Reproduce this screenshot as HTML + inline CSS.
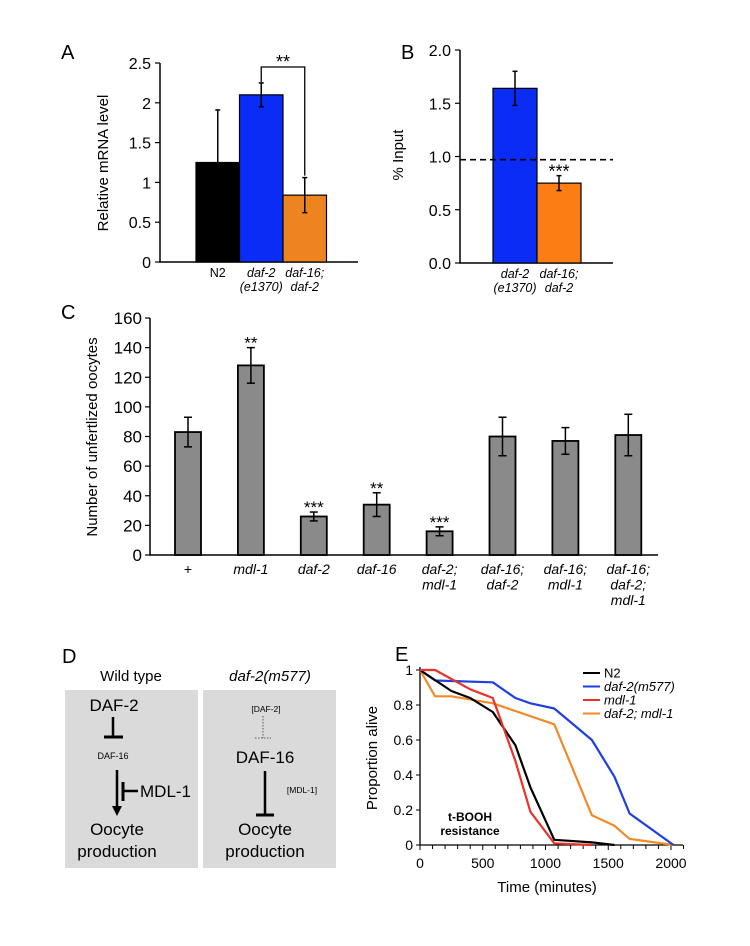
<!DOCTYPE html>
<html><head><meta charset="utf-8"><style>
html,body{margin:0;padding:0;background:#fff;}
svg{display:block;font-family:"Liberation Sans",Arial,sans-serif;}
</style></head><body>
<svg id="fig" width="750" height="946" viewBox="0 0 750 946" xmlns="http://www.w3.org/2000/svg">
<g id="pA"></g>
<g id="pB"></g>
<g id="pC"></g>
<g id="pD">
  <text x="62" y="663" font-size="20">D</text>
  <text x="131" y="681" font-size="15" text-anchor="middle">Wild type</text>
  <text x="270" y="681" font-size="15" text-anchor="middle" font-style="italic">daf-2(m577)</text>
  <rect x="65" y="690" width="133" height="178" fill="#dadada"/>
  <rect x="203" y="690" width="133" height="178" fill="#dadada"/>
  <text x="114" y="711" font-size="17" text-anchor="middle">DAF-2</text>
  <line x1="113" y1="717" x2="113" y2="737" stroke="#000" stroke-width="2.5"/>
  <line x1="104" y1="737" x2="123" y2="737" stroke="#000" stroke-width="3"/>
  <text x="113" y="759" font-size="9" text-anchor="middle">DAF-16</text>
  <line x1="117" y1="770" x2="117" y2="808" stroke="#000" stroke-width="2.5"/>
  <polygon points="112,806 122,806 117,816" fill="#000"/>
  <line x1="123" y1="782" x2="123" y2="801" stroke="#000" stroke-width="3"/>
  <line x1="123" y1="791" x2="138" y2="791" stroke="#000" stroke-width="2.5"/>
  <text x="140" y="797" font-size="17">MDL-1</text>
  <text x="117" y="835" font-size="17" text-anchor="middle">Oocyte</text>
  <text x="117" y="857" font-size="17" text-anchor="middle">production</text>
  <text x="266" y="712" font-size="8.5" text-anchor="middle">[DAF-2]</text>
  <line x1="263" y1="716" x2="263" y2="738" stroke="#333" stroke-width="0.8" stroke-dasharray="1.5,1.5"/>
  <line x1="255" y1="738" x2="271" y2="738" stroke="#333" stroke-width="0.8" stroke-dasharray="1.5,1.5"/>
  <text x="265" y="763" font-size="17" text-anchor="middle">DAF-16</text>
  <line x1="265" y1="771" x2="265" y2="815" stroke="#000" stroke-width="2.5"/>
  <line x1="256" y1="815" x2="274" y2="815" stroke="#000" stroke-width="3"/>
  <text x="302" y="793" font-size="8.5" text-anchor="middle">[MDL-1]</text>
  <text x="265" y="835" font-size="17" text-anchor="middle">Oocyte</text>
  <text x="265" y="857" font-size="17" text-anchor="middle">production</text>
</g>
<g id="pE"></g>
</svg>
<script>
// Panel A data
const aCats=[["N2"],["daf-2","(e1370)"],["daf-16;","daf-2"]];
const aVals=[1.25,2.1,0.84];
const aErr=[0.66,0.15,0.22];
const aTicks=["0","0.5","1","1.5","2","2.5"];
// Panel B data
const bCats=[["daf-2","(e1370)"],["daf-16;","daf-2"]];
const bVals=[1.64,0.75];
const bErr=[0.16,0.07];
const bRef=[0.97];
const bTicks=["0.0","0.5","1.0","1.5","2.0"];
// Panel C data
const cCats=[["+"],["mdl-1"],["daf-2"],["daf-16"],["daf-2;","mdl-1"],["daf-16;","daf-2"],["daf-16;","mdl-1"],["daf-16;","daf-2;","mdl-1"]];
const cVals=[83,128,26,34,16,80,77,81];
const cErr=[10,12,3,8,3,13,9,14];
const cStars=["","**","***","**","***","","",""];
const cTicks=["0","20","40","60","80","100","120","140","160"];
// Panel E data
const eNames=["N2","daf-2(m577)","mdl-1","daf-2; mdl-1"];
const eN2T=[0,250,400,580,760,880,1070,1370,1550];
const eN2V=[1,0.88,0.84,0.76,0.57,0.33,0.03,0.015,0];
const eD2T=[0,120,580,760,880,1070,1370,1550,1670,2020];
const eD2V=[1,0.94,0.93,0.84,0.81,0.78,0.6,0.39,0.18,0];
const eMdT=[0,120,400,580,760,880,1070,1370];
const eMdV=[1,1,0.89,0.84,0.48,0.19,0.01,0];
const eDmT=[0,120,250,580,1070,1370,1550,1670,2020];
const eDmV=[1,0.85,0.85,0.81,0.69,0.17,0.11,0.035,0];
const eXTicks=["0","500","1000","1500","2000"];
const eYTicks=["0","0.2","0.4","0.6","0.8","1"];

const NS="http://www.w3.org/2000/svg";
function mk(parent,tag,attrs,txt){const e=document.createElementNS(NS,tag);for(const k in attrs)e.setAttribute(k,attrs[k]);if(txt!==undefined)e.textContent=txt;parent.appendChild(e);return e;}

function errBar(g,x,yTop,yBot,w){
  let e=mk(g,"line",{x1:x,x2:x,y1:yTop,y2:yBot,stroke:"#000","stroke-width":1.5});
  
  
  let c1=mk(g,"line",{x1:x-w,x2:x+w,y1:yTop,y2:yTop,stroke:"#000","stroke-width":1.5});
  
  
  let c2=mk(g,"line",{x1:x-w,x2:x+w,y1:yBot,y2:yBot,stroke:"#000","stroke-width":1.5});
  
  
}
function label(g,x,y,lines,size,italic,name){
  lines.forEach((l,i)=>{
    const t=mk(g,"text",{x:x,y:y+i*size*1.1,"font-size":size,"text-anchor":"middle","font-style":(italic&&l!=="N2"&&l!=="+")?"italic":"normal"},l);
    
    
  });
}

// ---------- Panel A
(function(){
  const g=document.getElementById("pA");
  const x0=160,x1=358,y0=262,sy=79.6;
  const Y=v=>y0-v*sy;
  let L=mk(g,"text",{x:61,y:59,"font-size":20},"A");
  
  
  let ax=mk(g,"path",{d:`M${x0},${Y(2.5)}V${y0}H${x1}`,fill:"none",stroke:"#000","stroke-width":1.5});
  
  
  aTicks.forEach((t,i)=>{
    const v=parseFloat(t);
    let tk=mk(g,"line",{x1:x0-5,x2:x0,y1:Y(v),y2:Y(v),stroke:"#000","stroke-width":1.2});
    
    
    let tl=mk(g,"text",{x:x0-9,y:Y(v)+6,"font-size":16,"text-anchor":"end"},t);
    
    
  });
  let yt=mk(g,"text",{transform:`translate(108,163) rotate(-90)`,"font-size":15,"text-anchor":"middle"},"Relative mRNA level");
  
  
  const cols=["#000000","#0a2cf5","#ee8420"];
  const bw=43.5,bx0=196;
  aVals.forEach((v,i)=>{
    const bx=bx0+i*bw;
    let r=mk(g,"rect",{x:bx,y:Y(v),width:bw,height:y0-Y(v),fill:cols[i],stroke:"#000","stroke-width":1.2});
    
    
    errBar(g,bx+bw/2,Y(v+aErr[i]),Y(v-aErr[i]),2.5);
    label(g,bx+bw/2,y0+15,aCats[i],12.5,true,'a-x-label');
  });
  const cx1=bx0+bw*1.5,cx2=bx0+bw*2.5;
  let br=mk(g,"path",{d:`M${cx1},${Y(aVals[1]+aErr[1])-1}V67H${cx2}V${Y(aVals[2]+aErr[2])-2}`,fill:"none",stroke:"#000","stroke-width":1.3});
  
  
  let st=mk(g,"text",{x:(cx1+cx2)/2,y:68,"font-size":18,"text-anchor":"middle"},"**");
  
  
})();

// ---------- Panel B
(function(){
  const g=document.getElementById("pB");
  const x0=460,x1=613,y0=263,sy=106.5;
  const Y=v=>y0-v*sy;
  let L=mk(g,"text",{x:401,y:59,"font-size":20},"B");
  
  
  let ax=mk(g,"path",{d:`M${x0},${Y(2)}V${y0}H${x1}`,fill:"none",stroke:"#000","stroke-width":1.5});
  
  
  bTicks.forEach(t=>{
    const v=parseFloat(t);
    let tk=mk(g,"line",{x1:x0-5,x2:x0,y1:Y(v),y2:Y(v),stroke:"#000","stroke-width":1.2});
    
    
    let tl=mk(g,"text",{x:x0-9,y:Y(v)+6,"font-size":16,"text-anchor":"end"},t);
    
    
  });
  let yt=mk(g,"text",{transform:`translate(403,155) rotate(-90)`,"font-size":15,"text-anchor":"middle"},"% Input");
  
  
  const cols=["#0a2cf5","#fb7d14"];
  const bw=44,bx0=493;
  bVals.forEach((v,i)=>{
    const bx=bx0+i*bw;
    let r=mk(g,"rect",{x:bx,y:Y(v),width:bw,height:y0-Y(v),fill:cols[i],stroke:"#000","stroke-width":1.2});
    
    
    errBar(g,bx+bw/2,Y(v+bErr[i]),Y(v-bErr[i]),2.5);
    label(g,bx+bw/2,y0+15,bCats[i],12.5,true,'b-x-label');
  });
  let d=mk(g,"line",{x1:x0,x2:x1,y1:Y(bRef[0]),y2:Y(bRef[0]),stroke:"#000","stroke-width":1.6,"stroke-dasharray":"6,4"});
  
  
  let st=mk(g,"text",{x:bx0+bw*1.5,y:Y(bVals[1]+bErr[1])+2,"font-size":18,"text-anchor":"middle"},"***");
  
  
})();

// ---------- Panel C
(function(){
  const g=document.getElementById("pC");
  const x0=150,x1=658,y0=555,sy=237/160;
  const Y=v=>y0-v*sy;
  let L=mk(g,"text",{x:61,y:319,"font-size":20},"C");
  
  
  let ax=mk(g,"path",{d:`M${x0},${Y(160)}V${y0}H${x1}`,fill:"none",stroke:"#000","stroke-width":1.5});
  
  
  cTicks.forEach(t=>{
    const v=parseFloat(t);
    let tk=mk(g,"line",{x1:x0-5,x2:x0,y1:Y(v),y2:Y(v),stroke:"#000","stroke-width":1.2});
    
    
    let tl=mk(g,"text",{x:x0-8,y:Y(v)+6,"font-size":17,"text-anchor":"end"},t);
    
    
  });
  let yt=mk(g,"text",{transform:`translate(97,437) rotate(-90)`,"font-size":15,"text-anchor":"middle"},"Number of unfertlized oocytes");
  
  
  const bw=26,cx0=188,step=62.9;
  cVals.forEach((v,i)=>{
    const cx=cx0+i*step;
    let r=mk(g,"rect",{x:cx-bw/2,y:Y(v),width:bw,height:y0-Y(v),fill:"#8a8a8a",stroke:"#000","stroke-width":1.8});
    
    
    errBar(g,cx,Y(v+cErr[i]),Y(v-cErr[i]),4);
    label(g,cx,y0+19,cCats[i],14,true,'c-x-label');
    if(cStars[i]){
      let st=mk(g,"text",{x:cx,y:Y(v+cErr[i])+1,"font-size":17,"text-anchor":"middle"},cStars[i]);
      
      
    }
  });
})();

// ---------- Panel E
(function(){
  const g=document.getElementById("pE");
  const x0=420,y0=845,y1=670,sx=251/2000,xEnd=683;
  const X=t=>x0+t*sx, Y=v=>y0-v*(y0-y1);
  let L=mk(g,"text",{x:395,y:661,"font-size":20},"E");
  
  
  let ax=mk(g,"path",{d:`M${x0},${y1-3}V${y0}H${xEnd}`,fill:"none",stroke:"#000","stroke-width":1.3});
  
  
  eYTicks.forEach(t=>{
    const v=parseFloat(t);
    let tk=mk(g,"line",{x1:x0-4,x2:x0,y1:Y(v),y2:Y(v),stroke:"#000","stroke-width":1});
    
    
    let tl=mk(g,"text",{x:413,y:Y(v)+5,"font-size":14,"text-anchor":"end"},t);
    
    
  });
  for(let t=0;t<=2100;t+=100){
    let tk=mk(g,"line",{x1:X(t),x2:X(t),y1:y0,y2:y0+(t%500===0?5:4),stroke:"#000","stroke-width":1});
    
    
  }
  eXTicks.forEach(t=>{
    let tl=mk(g,"text",{x:X(parseFloat(t)),y:y0+23,"font-size":14,"text-anchor":"middle"},t);
    
    
  });
  let xt=mk(g,"text",{x:547,y:892,"font-size":15,"text-anchor":"middle"},"Time (minutes)");
  
  
  let yt=mk(g,"text",{transform:`translate(377,758) rotate(-90)`,"font-size":15,"text-anchor":"middle"},"Proportion alive");
  
  
  const series=[[eN2T,eN2V,"#000000"],[eD2T,eD2V,"#1f3fe0"],[eMdT,eMdV,"#e8322a"],[eDmT,eDmV,"#f28a2a"]];
  [3,1,0,2].forEach(i=>{
    const [T,V,c]=series[i];
    const pts=T.map((t,k)=>X(t).toFixed(1)+","+Y(V[k]).toFixed(1)).join(" ");
    let p=mk(g,"polyline",{points:pts,fill:"none",stroke:c,"stroke-width":2.2,"stroke-linejoin":"round"});
    
    
  });
  series.forEach((s,i)=>{
    const y=673+i*13.5;
    let l=mk(g,"line",{x1:583,x2:600,y1:y,y2:y,stroke:s[2],"stroke-width":2});
    
    
    let t=mk(g,"text",{x:604,y:y+4.5,"font-size":13,"font-style":i===0?"normal":"italic"},eNames[i]);
    
    
  });
  let a=mk(g,"text",{x:470,y:821,"font-size":12,"font-weight":"bold","text-anchor":"middle"},"t-BOOH");
  
  
  let b=mk(g,"text",{x:470,y:835,"font-size":12,"font-weight":"bold","text-anchor":"middle"},"resistance");
  
  
})();
</script>
</body></html>
